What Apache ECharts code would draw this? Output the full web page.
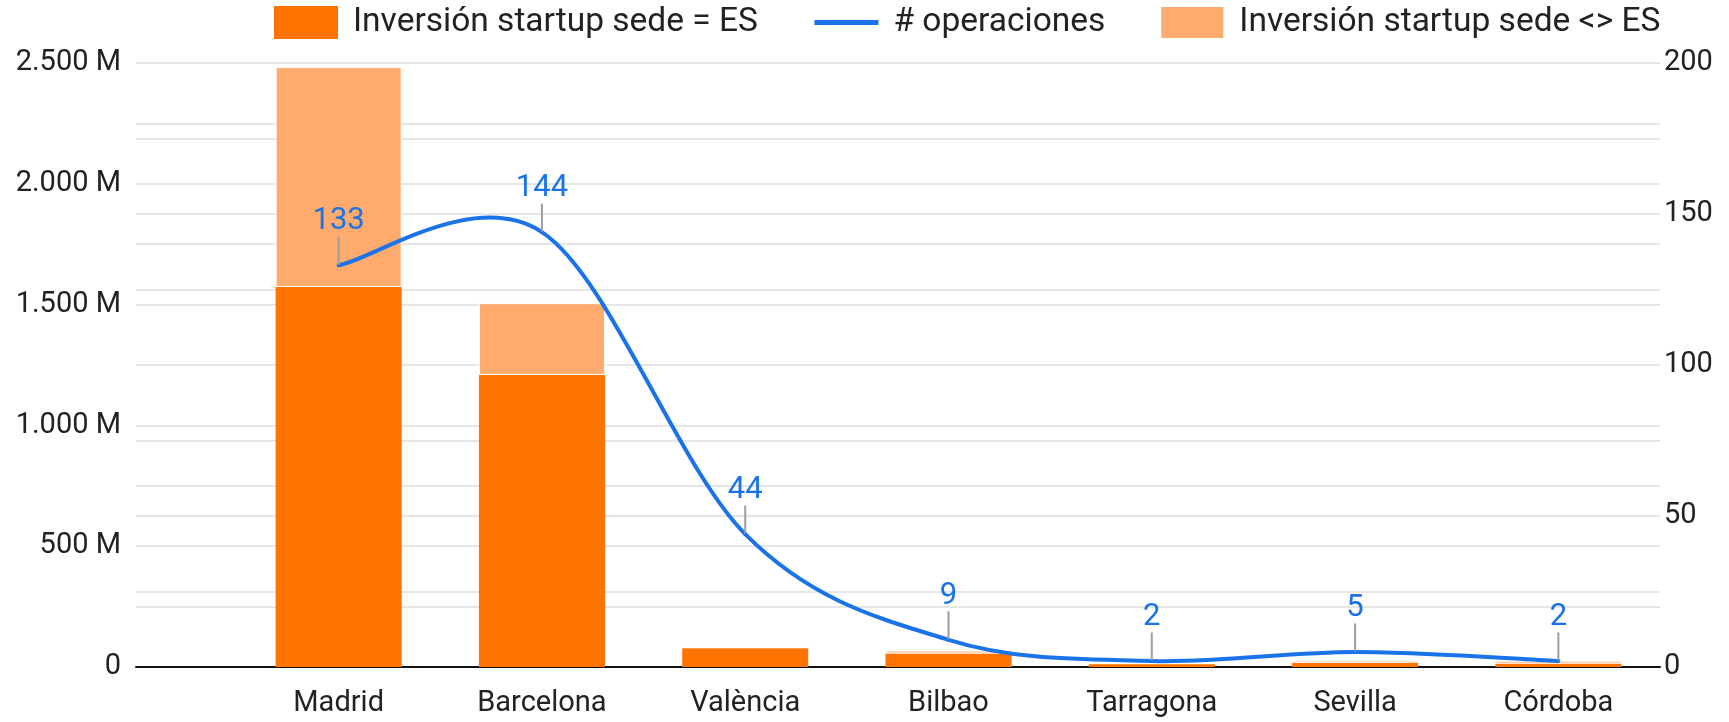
<!DOCTYPE html>
<html style="height: 100%">
<head>
  <meta charset="utf-8" />
  <title>Inversión startups por ciudad</title>
  <script src="https://cdn.jsdelivr.net/npm/echarts@6/dist/echarts.min.js"></script>
</head>
<body style="height: 100%; margin: 0; background: #fff">
  <div id="chart" style="width: 1729px; height: 722px"></div>
  <script>
    // data (investment in millions of euros)
    const cities = ['Madrid', 'Barcelona', 'València', 'Bilbao', 'Tarragona', 'Sevilla', 'Córdoba'];
    const inversionES = [1573, 1209, 80, 56, 14, 18, 14];
    const inversionNoES = [910, 297, 0, 12, 0, 9, 12];
    const operaciones = [133, 144, 44, 9, 2, 5, 2];

    const leftTicks = { min: 0, max: 2500, interval: 500 };
    const rightTicks = { min: 0, max: 200, interval: 50 };

    const font = 'Roboto, sans-serif';
    const blue = '#1a73e8';
    const gridLine = { lineStyle: { color: '#e6e6e6', width: 2 } };

    function fmtMillions(v) {
      if (v === 0) return '0';
      let s = v >= 1000 ? Math.floor(v / 1000) + '.' + String(v % 1000).padStart(3, '0') : String(v);
      return s + ' M';
    }

    // catmull-rom style curve (like the "function" curve of the original),
    // one bezier segment per point, using the axis to place every point
    function renderCurve(params, api) {
      const i = params.dataIndex;
      const n = operaciones.length;
      if (i >= n - 1) return null;
      const pt = j => api.coord([Math.max(0, Math.min(n - 1, j)), operaciones[Math.max(0, Math.min(n - 1, j))]]);
      const p0 = pt(i - 1), p1 = pt(i), p2 = pt(i + 1), p3 = pt(i + 2);
      const t = 1 / 6;
      return {
        type: 'bezierCurve',
        shape: {
          x1: p1[0], y1: p1[1],
          cpx1: p1[0] + (p2[0] - p0[0]) * t, cpy1: p1[1] + (p2[1] - p0[1]) * t,
          cpx2: p2[0] - (p3[0] - p1[0]) * t, cpy2: p2[1] - (p3[1] - p1[1]) * t,
          x2: p2[0], y2: p2[1]
        },
        style: { stroke: blue, lineWidth: 4, fill: null, lineCap: 'round' }
      };
    }

    var chart = echarts.init(document.getElementById('chart'));

    chart.setOption({
      backgroundColor: '#fff',
      animation: false,
      textStyle: { fontFamily: font },
      legend: {
        left: 269,
        top: 0,
        itemWidth: 64,
        itemHeight: 33,
        itemGap: 54,
        textStyle: { fontSize: 33.5, color: '#222', fontFamily: font, padding: [0, 0, 0, 10] },
        data: [
          { name: 'Inversión startup sede = ES', icon: 'rect' },
          { name: '# operaciones', itemStyle: { opacity: 0 }, lineStyle: { color: blue, width: 5, opacity: 1 } },
          { name: 'Inversión startup sede <> ES', icon: 'rect' }
        ]
      },
      grid: [
        { left: 136, right: 69, top: 63, bottom: 55 },
        { left: 237, right: 69, top: 63, bottom: 55 }
      ],
      xAxis: [
        {
          type: 'value', gridIndex: 0, min: 0, max: 1,
          axisLine: { show: true, onZero: false, lineStyle: { color: '#111', width: 2 } },
          axisTick: { show: false }, axisLabel: { show: false }, splitLine: { show: false }
        },
        {
          type: 'category', gridIndex: 1, data: cities,
          axisLine: { show: false }, axisTick: { show: false },
          axisLabel: { fontSize: 29, color: '#222', margin: 22, fontFamily: font }
        }
      ],
      yAxis: [
        {
          type: 'value', gridIndex: 0, position: 'left',
          min: leftTicks.min, max: leftTicks.max, interval: leftTicks.interval,
          axisLine: { show: false }, axisTick: { show: false },
          axisLabel: { fontSize: 29, color: '#222', margin: 15, formatter: fmtMillions, fontFamily: font },
          splitLine: gridLine,
          minorTick: { show: false, splitNumber: 2 },
          minorSplitLine: Object.assign({ show: true }, gridLine)
        },
        {
          type: 'value', gridIndex: 0, position: 'right',
          min: rightTicks.min, max: rightTicks.max, interval: rightTicks.interval,
          axisLine: { show: false }, axisTick: { show: false },
          axisLabel: { fontSize: 29, color: '#222', margin: 4, fontFamily: font },
          splitLine: gridLine,
          minorTick: { show: false, splitNumber: 2 },
          minorSplitLine: Object.assign({ show: true }, gridLine)
        },
        {
          type: 'value', gridIndex: 1, min: leftTicks.min, max: leftTicks.max,
          show: false, splitLine: { show: false }
        },
        {
          type: 'value', gridIndex: 1, min: rightTicks.min, max: rightTicks.max,
          show: false, splitLine: { show: false }
        }
      ],
      series: [
        {
          name: 'Inversión startup sede = ES',
          type: 'bar', stack: 'inv', xAxisIndex: 1, yAxisIndex: 2,
          data: inversionES,
          barCategoryGap: '38%',
          itemStyle: { color: '#ff7400' },
          z: 3
        },
        {
          name: '# operaciones',
          type: 'line', xAxisIndex: 1, yAxisIndex: 3,
          data: operaciones,
          symbol: 'circle', symbolSize: 1,
          lineStyle: { color: blue, width: 4, opacity: 0 },
          itemStyle: { color: blue },
          label: { show: true, position: 'top', distance: 2, fontSize: 31, color: blue, fontFamily: font },
          labelLayout: { dy: -26 },
          labelLine: { show: true, lineStyle: { color: '#9e9e9e', width: 2 } },
          z: 6
        },
        {
          type: 'custom', xAxisIndex: 1, yAxisIndex: 3,
          data: operaciones,
          renderItem: renderCurve,
          silent: true,
          z: 5
        },
        {
          name: 'Inversión startup sede <> ES',
          type: 'bar', stack: 'inv', xAxisIndex: 1, yAxisIndex: 2,
          data: inversionNoES,
          itemStyle: { color: '#ffab6e', borderColor: '#fff', borderWidth: 1 },
          z: 3
        }
      ]
    });
  </script>
</body>
</html>
